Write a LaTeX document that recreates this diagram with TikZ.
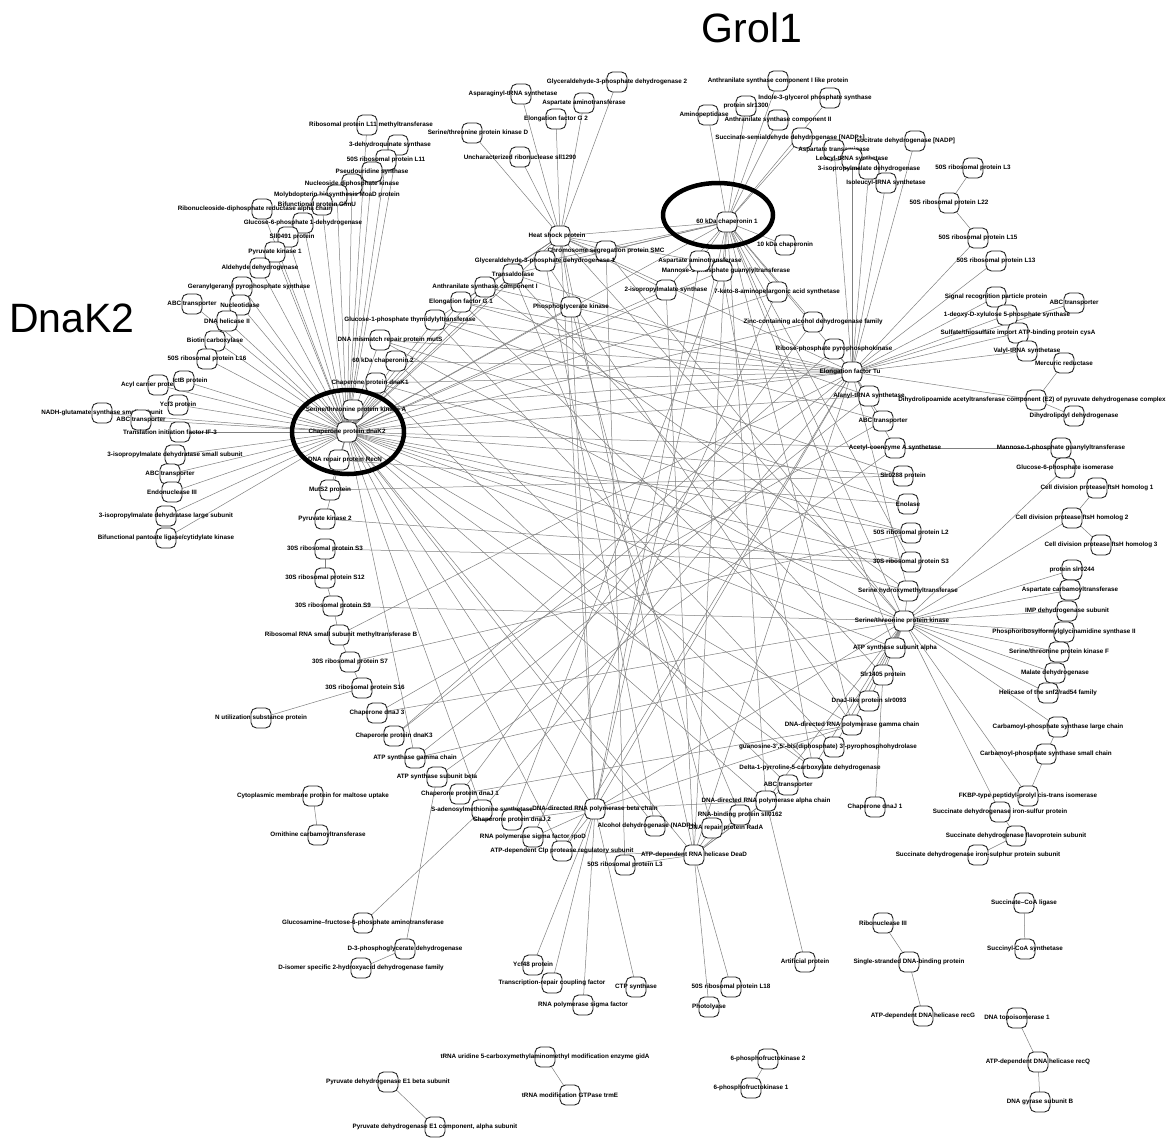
\documentclass[tikz,border=0pt]{standalone}
\usepackage{fontspec}
\setmainfont{Liberation Sans}
\usetikzlibrary{shapes.geometric}
\pgfdeclarelayer{paper}
\pgfdeclarelayer{edgelayer}
\pgfsetlayers{paper,edgelayer,main}
\tikzset{
  pbox/.style={draw=black!85, fill=white, line width=0.9pt, rounded corners=5.5pt,
    minimum width=20pt, minimum height=20pt, inner sep=0pt},
  plab/.style={font=\fontsize{6.3}{7}\selectfont\bfseries, inner sep=0pt, text=black},
  edge/.style={draw=black!50, line width=0.5pt},
  ring/.style={draw=black, line width=4.5pt, ellipse, inner sep=0pt},
  bigtitle/.style={font=\fontsize{41}{41}\selectfont, inner sep=0pt}
}
% protein node: name, x, y, label shift, label text
\newcommand\pn[5]{\node[pbox,label={[plab,xshift=#4pt]center:{#5}}] (#1) at (#2,#3) {};}
\begin{document}
\begin{tikzpicture}[x=1pt,y=-1pt]
\begin{pgfonlayer}{paper}
\fill[white] (0,0) rectangle (1166,1138);
\end{pgfonlayer}
\useasboundingbox (0,0) rectangle (1166,1138);

% hub proteins
\pn{dk}{347}{432}{0}{Chaperone protein dnaK2}
\pn{r51}{727}{222}{0}{60 kDa chaperonin 1}

% left fan
\pn{l1}{367}{125}{4}{Ribosomal protein L11 methyltransferase}
\pn{l2}{398}{145}{-8}{3-dehydroquinate synthase}
\pn{l3}{386}{160}{0}{50S ribosomal protein L11}
\pn{l4}{372}{172}{0}{Pseudouridine synthase}
\pn{l5}{352}{184}{0}{Nucleoside diphosphate kinase}
\pn{l6}{337}{195}{0}{Molybdopterin biosynthesis MoaD protein}
\pn{l7}{322}{205}{-5}{Bifunctional protein GlmU}
\pn{l8}{262}{209}{-7}{Ribonucleoside-diphosphate reductase alpha chain}
\pn{l9}{303}{223}{0}{Glucose-6-phosphate 1-dehydrogenase}
\pn{l10}{288}{237}{4}{Sll0491 protein}
\pn{l11}{275}{252}{0}{Pyruvate kinase 1}
\pn{l12}{260}{268}{0}{Aldehyde dehydrogenase}
\pn{l13}{242}{287}{7}{Geranylgeranyl pyrophosphate synthase}
\pn{l14}{192}{304}{0}{ABC transporter}
\pn{l15}{240}{305}{0}{Nucleotidase}
\pn{l16}{227}{321}{0}{DNA helicase II}
\pn{l17}{215}{341}{0}{Biotin carboxylase}
\pn{l18}{207}{359}{0}{50S ribosomal protein L16}
\pn{l19}{158}{385}{-8}{Acyl carrier protein}
\pn{l20}{184}{381}{6}{IctB protein}
\pn{l21}{178}{405}{0}{Ycf3 protein}
\pn{l22}{102}{413}{0}{NADH-glutamate synthase small subunit}
\pn{l23}{141}{420}{0}{ABC transporter}
\pn{l24}{180}{432}{-10}{Translation initiation factor IF-3}
\pn{l25}{175}{455}{0}{3-isopropylmalate dehydratase small subunit}
\pn{l26}{170}{474}{0}{ABC transporter}
\pn{l27}{172}{492}{0}{Endonuclease III}
\pn{l28}{166}{516}{0}{3-isopropylmalate dehydratase large subunit}
\pn{l29}{166}{538}{0}{Bifunctional pantoate ligase/cytidylate kinase}

% ring of proteins
\pn{r1}{353}{410}{3}{Serine/threonine protein kinase A}
\pn{r2}{339}{460}{6}{DNA repair protein RecN}
\pn{r3}{330}{490}{0}{MutS2 protein}
\pn{r4}{325}{519}{0}{Pyruvate kinase 2}
\pn{r5}{325}{549}{0}{30S ribosomal protein S3}
\pn{r6}{325}{578}{0}{30S ribosomal protein S12}
\pn{r7}{333}{606}{0}{30S ribosomal protein S9}
\pn{r8}{339}{635}{2}{Ribosomal RNA small subunit methyltransferase B}
\pn{r9}{350}{662}{0}{30S ribosomal protein S7}
\pn{r10}{362}{688}{3}{30S ribosomal protein S16}
\pn{r11}{261}{718}{0}{N utilization substance protein}
\pn{r12}{377}{713}{0}{Chaperone dnaJ 3}
\pn{r13}{394}{736}{0}{Chaperone protein dnaK3}
\pn{r14}{415}{758}{0}{ATP synthase gamma chain}
\pn{r15}{437}{777}{0}{ATP synthase subunit beta}
\pn{r16}{460}{794}{0}{Chaperone protein dnaJ 1}
\pn{r17}{482}{810}{0}{S-adenosylmethionine synthetase}
\pn{r18}{512}{820}{0}{Chaperone protein dnaJ 2}
\pn{r19}{533}{837}{0}{RNA polymerase sigma factor rpoD}
\pn{r20}{562}{851}{0}{ATP-dependent Clp protease regulatory subunit}
\pn{r21}{595}{809}{0}{DNA-directed RNA polymerase beta chain}
\pn{r22}{625}{865}{0}{50S ribosomal protein L3}
\pn{r23}{655}{826}{-8}{Alcohol dehydrogenase (NADP+)}
\pn{r24}{712}{828}{14}{DNA repair protein RadA}
\pn{r25}{694}{855}{0}{ATP-dependent RNA helicase DeaD}
\pn{r26}{740}{815}{0}{RNA-binding protein sll0162}
\pn{r27}{766}{801}{0}{DNA-directed RNA polymerase alpha chain}
\pn{r28}{788}{785}{0}{ABC transporter}
\pn{r29}{813}{768}{-3}{Delta-1-pyrroline-5-carboxylate dehydrogenase}
\pn{r30}{834}{747}{-6}{guanosine-3',5'-bis(diphosphate) 3'-pyrophosphohydrolase}
\pn{r31}{852}{725}{0}{DNA-directed RNA polymerase gamma chain}
\pn{r32}{869}{701}{0}{DnaJ-like protein slr0093}
\pn{r33}{883}{675}{0}{Slr1405 protein}
\pn{r34}{895}{648}{0}{ATP synthase subunit alpha}
\pn{r35}{904}{621}{-2}{Serine/threonine protein kinase}
\pn{r36}{908}{591}{0}{Serine hydroxymethyltransferase}
\pn{r37}{911}{562}{0}{30S ribosomal protein S3}
\pn{r38}{911}{533}{0}{50S ribosomal protein L2}
\pn{r39}{908}{504}{0}{Enolase}
\pn{r40}{903}{476}{0}{Slr0288 protein}
\pn{r41}{895}{448}{0}{Acetyl-coenzyme A synthetase}
\pn{r42}{883}{421}{0}{ABC transporter}
\pn{r43}{869}{396}{0}{Alanyl-tRNA synthetase}
\pn{r44}{852}{372}{-2}{Elongation factor Tu}
\pn{r45}{834}{349}{0}{Ribose-phosphate pyrophosphokinase}
\pn{r46}{813}{322}{0}{Zinc-containing alcohol dehydrogenase family}
\pn{r47}{777}{292}{0}{7-keto-8-aminopelargonic acid synthetase}
\pn{r48}{785}{245}{0}{10 kDa chaperonin}
\pn{r49}{722}{271}{4}{Mannose-1-phosphate guanylyltransferase}
\pn{r50}{700}{261}{0}{Aspartate aminotransferase}
\pn{r52}{666}{290}{0}{2-isopropylmalate synthase}
\pn{r53}{571}{307}{0}{Phosphoglycerate kinase}
\pn{r54}{606}{251}{0}{Chromosome segregation protein SMC}
\pn{r55}{560}{236}{-3}{Heat shock protein}
\pn{r56}{545}{261}{0}{Glyceraldehyde-3-phosphate dehydrogenase 1}
\pn{r57}{513}{274}{0}{Transaldolase}
\pn{r58}{485}{287}{0}{Anthranilate synthase component I}
\pn{r59}{461}{302}{0}{Elongation factor G 1}
\pn{r60}{435}{320}{-25}{Glucose-1-phosphate thymidylyltransferase}
\pn{r61}{380}{340}{10}{DNA mismatch repair protein mutS}
\pn{r62}{396}{361}{-13}{60 kDa chaperonin 2}
\pn{r63}{376}{383}{-6}{Chaperone protein dnaK1}

% top cluster
\pn{t1}{617}{82}{0}{Glyceraldehyde-3-phosphate dehydrogenase 2}
\pn{t2}{521}{94}{-8}{Asparaginyl-tRNA synthetase}
\pn{t3}{584}{103}{0}{Aspartate aminotransferase}
\pn{t4}{556}{119}{0}{Elongation factor G 2}
\pn{t5}{472}{133}{6}{Serine/threonine protein kinase D}
\pn{t6}{520}{157}{0}{Uncharacterized ribonuclease sll1290}
\pn{g1}{708}{115}{-4}{Aminopeptidase}
\pn{g2}{746}{106}{0}{protein slr1300}
\pn{g3}{778}{81}{0}{Anthranilate synthase component I like protein}
\pn{g4}{830}{98}{-15}{Indole-3-glycerol phosphate synthase}
\pn{g5}{778}{120}{0}{Anthranilate synthase component II}
\pn{g6}{802}{138}{-12}{Succinate-semialdehyde dehydrogenase [NADP+]}
\pn{g7}{915}{141}{-10}{Isocitrate dehydrogenase [NADP]}
\pn{g8}{834}{150}{0}{Aspartate transaminase}
\pn{g9}{852}{159}{0}{Leucyl-tRNA synthetase}
\pn{g10}{869}{169}{0}{3-isopropylmalate dehydrogenase}
\pn{g11}{886}{183}{0}{Isoleucyl-tRNA synthetase}

% right cluster
\pn{k1}{973}{168}{0}{50S ribosomal protein L3}
\pn{k2}{949}{203}{0}{50S ribosomal protein L22}
\pn{k3}{978}{238}{0}{50S ribosomal protein L15}
\pn{k4}{996}{261}{0}{50S ribosomal protein L13}
\pn{k5}{996}{297}{0}{Signal recognition particle protein}
\pn{k6}{1074}{303}{0}{ABC transporter}
\pn{k7}{1007}{315}{0}{1-deoxy-D-xylulose 5-phosphate synthase}
\pn{k8}{1018}{333}{0}{Sulfate/thiosulfate import ATP-binding protein cysA}
\pn{k9}{1027}{351}{0}{Valyl-tRNA synthetase}
\pn{k10}{1064}{363}{0}{Mercuric reductase}
\pn{k11}{1036}{400}{-4}{Dihydrolipoamide acetyltransferase component (E2) of pyruvate dehydrogenase complex}
\pn{k12}{1074}{416}{0}{Dihydrolipoyl dehydrogenase}
\pn{k13}{1061}{448}{0}{Mannose-1-phosphate guanylyltransferase}
\pn{k14}{1065}{468}{0}{Glucose-6-phosphate isomerase}
\pn{k15}{1097}{488}{0}{Cell division protease ftsH homolog 1}
\pn{k16}{1072}{518}{0}{Cell division protease ftsH homolog 2}
\pn{k17}{1101}{545}{0}{Cell division protease ftsH homolog 3}
\pn{k18}{1072}{570}{0}{protein slr0244}
\pn{k19}{1070}{590}{0}{Aspartate carbamoyltransferase}
\pn{k20}{1067}{611}{0}{IMP dehydrogenase subunit}
\pn{k21}{1064}{632}{0}{Phosphoribosylformylglycinamidine synthase II}
\pn{k22}{1059}{652}{0}{Serine/threonine protein kinase F}
\pn{k23}{1055}{673}{0}{Malate dehydrogenase}
\pn{k24}{1048}{693}{0}{Helicase of the snf2/rad54 family}
\pn{k25}{1058}{727}{0}{Carbamoyl-phosphate synthase large chain}
\pn{k26}{1046}{754}{0}{Carbamoyl-phosphate synthase small chain}
\pn{k27}{1028}{796}{0}{FKBP-type peptidyl-prolyl cis-trans isomerase}
\pn{k28}{1000}{812}{0}{Succinate dehydrogenase iron-sulfur protein}
\pn{k29}{1016}{836}{0}{Succinate dehydrogenase flavoprotein subunit}
\pn{k30}{978}{855}{0}{Succinate dehydrogenase iron-sulphur protein subunit}
\pn{k31}{875}{807}{0}{Chaperone dnaJ 1}

% lower and detached proteins
\pn{b1}{363}{923}{0}{Glucosamine--fructose-6-phosphate aminotransferase}
\pn{b2}{405}{949}{0}{D-3-phosphoglycerate dehydrogenase}
\pn{b3}{361}{968}{0}{D-isomer specific 2-hydroxyacid dehydrogenase family}
\pn{b4}{313}{796}{0}{Cytoplasmic membrane protein for maltose uptake}
\pn{b5}{318}{835}{0}{Ornithine carbamoyltransferase}
\pn{b6}{533}{965}{0}{Ycf48 protein}
\pn{b7}{552}{983}{0}{Transcription-repair coupling factor}
\pn{b8}{583}{1005}{0}{RNA polymerase sigma factor}
\pn{b9}{636}{987}{0}{CTP synthase}
\pn{b10}{731}{987}{0}{50S ribosomal protein L18}
\pn{b11}{709}{1007}{0}{Photolyase}
\pn{b12}{805}{962}{0}{Artificial protein}
\pn{b13}{883}{923}{0}{Ribonuclease III}
\pn{b14}{909}{962}{0}{Single-stranded DNA-binding protein}
\pn{b15}{923}{1016}{0}{ATP-dependent DNA helicase recG}
\pn{b16}{1024}{903}{0}{Succinate--CoA ligase}
\pn{b17}{1025}{949}{0}{Succinyl-CoA synthetase}
\pn{b18}{1017}{1018}{0}{DNA topoisomerase 1}
\pn{b19}{1038}{1062}{0}{ATP-dependent DNA helicase recQ}
\pn{b20}{1040}{1102}{0}{DNA gyrase subunit B}
\pn{b21}{768}{1059}{0}{6-phosphofructokinase 2}
\pn{b22}{751}{1088}{0}{6-phosphofructokinase 1}
\pn{b23}{545}{1057}{0}{tRNA uridine 5-carboxymethylaminomethyl modification enzyme gidA}
\pn{b24}{570}{1095}{0}{tRNA modification GTPase trmE}
\pn{b25}{388}{1082}{0}{Pyruvate dehydrogenase E1 beta subunit}
\pn{b26}{435}{1127}{0}{Pyruvate dehydrogenase E1 component, alpha subunit}

% highlight rings and titles
\node[ring, minimum width=112pt, minimum height=84pt] (dkring) at (348,432) {};
\node[ring, minimum width=110pt, minimum height=64pt] (grring) at (718,215) {};
\node[bigtitle] (dktitle) at (72,318) {DnaK2};
\node[bigtitle] (grtitle) at (752,28) {Grol1};

% interactions
\begin{pgfonlayer}{edgelayer}
\foreach \a/\b in {
 dk/l1,dk/l2,dk/l3,dk/l4,dk/l5,dk/l6,dk/l7,dk/l8,dk/l9,dk/l10,dk/l11,dk/l12,dk/l13,
 dk/l14,dk/l15,dk/l16,dk/l17,dk/l18,dk/l19,dk/l20,dk/l21,dk/l22,dk/l23,dk/l24,dk/l25,
 dk/l26,dk/l27,dk/l28,dk/l29,
 dk/r1,dk/r2,dk/r3,dk/r4,dk/r60,dk/r61,dk/r62,dk/r63,dk/r59,dk/r58,dk/r57,
 dk/r21,dk/r25,dk/r35,dk/r44,dk/r51,dk/r55,dk/r34,dk/r31,dk/r38,dk/r41,dk/r37,dk/r36,
 dk/r40,dk/r43,dk/r23,dk/r20,dk/r17,dk/r14,dk/r27,dk/r29,dk/r46,dk/r47,dk/r49,dk/r52,dk/r53,
 r55/t1,r55/t2,r55/t3,r55/t4,r55/t5,r55/t6,r55/r51,r55/r54,r55/r56,r55/r53,r55/r44,
 r55/r35,r55/r21,r55/r25,r55/r58,r55/r59,r55/r60,r55/r50,r55/r52,
 r51/g1,r51/g2,r51/g3,r51/g4,r51/g5,r51/g6,r51/r48,r51/r49,r51/r50,r51/r47,r51/r46,
 r51/r52,r51/r44,r51/r35,r51/r21,r51/r25,r51/r34,r51/r37,r51/r31,r51/r27,r51/r54,
 r51/r56,r51/r57,
 r44/g8,r44/g9,r44/g10,r44/g11,r44/g7,r44/k3,r44/k4,r44/k5,r44/k6,r44/k7,r44/k8,r44/k9,
 r44/k11,r44/r45,r44/r43,r44/r42,r44/r41,r44/r36,r44/r21,r44/r25,r44/r20,r44/r17,
 r44/r13,r44/r61,r44/r62,r44/r63,r44/r58,r44/r59,r44/r60,r44/r8,r44/r1,
 k1/k2,k2/k3,k10/k11,k11/k12,k13/r41,k13/k14,k14/r35,k15/k16,k16/k17,k16/r35,
 r35/k18,r35/k19,r35/k20,r35/k21,r35/k22,r35/k23,r35/k24,r35/k25,r35/k27,r35/k28,
 k25/k26,k26/k27,k28/k29,k29/k30,k31/r33,
 r35/r34,r35/r33,r35/r32,r35/r36,r35/r31,r35/r30,r35/r29,r35/r27,r35/r21,r35/r7,
 r35/r61,r35/r12,r35/r54,
 r5/r6,r6/r7,r7/r8,r8/r9,r9/r10,r10/r11,r5/r37,r9/r38,r4/r37,
 r14/r34,r15/r41,r16/r31,r17/b1,r15/b2,b2/b3,
 r21/b6,r21/b7,r21/b8,r21/b9,r21/r19,r21/r20,r21/r18,r21/r17,r21/r27,r21/r31,
 r25/b10,r25/b11,r25/r26,r25/r27,r25/r28,r25/r20,r25/r22,r25/r24,r27/b12,
 b4/b5,b13/b14,b14/b15,b16/b17,b18/b19,b19/b20,b21/b22,b23/b24,b25/b26,
 r29/r62,r30/r60,r28/r63,r32/r59,r26/r57,r24/r53,r23/r56,r22/r54,r19/r47,r18/r49,
 r16/r46,r14/r43,r13/r45,r12/r42,r3/r40,r2/r39,r36/r58,r38/r63,r39/r61,r40/r60,
 r42/r59,r43/r57,r50/r21,r52/r25,r53/r21,r56/r31,r57/r33,r49/r29}
 \draw[edge] (\a.center) -- (\b.center);
\end{pgfonlayer}
\end{tikzpicture}
\end{document}
